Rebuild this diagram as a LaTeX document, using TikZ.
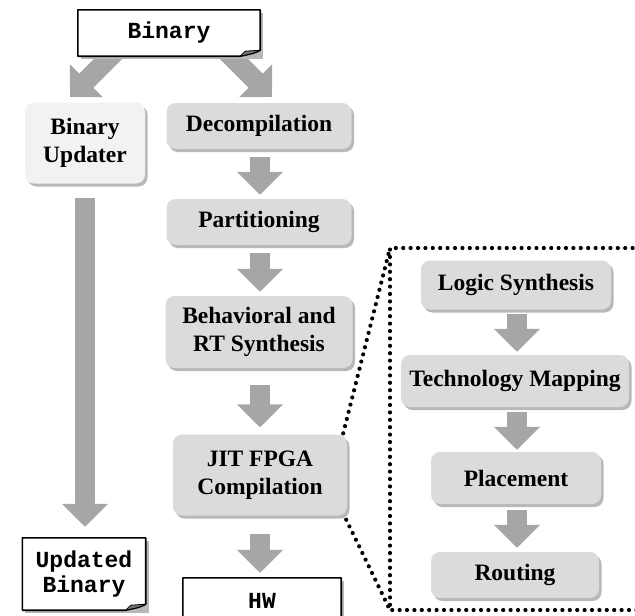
\documentclass[tikz,border=0pt]{standalone}
\usepackage{fontspec}
\setmainfont{Liberation Serif}
\setmonofont{Liberation Mono}
\usetikzlibrary{arrows.meta,shadows}

\definecolor{procfill}{HTML}{DBDBDB}
\definecolor{updfill}{HTML}{F2F2F2}
\definecolor{arrowgray}{HTML}{A6A6A6}
\definecolor{shadegray}{HTML}{B8B8B8}

\pgfdeclarelayer{arrowlayer}
\pgfdeclarelayer{framelayer}
\pgfsetlayers{arrowlayer,framelayer,main}

\tikzset{
  proc/.style={rounded corners=9pt, fill=procfill, inner sep=0pt, align=center,
    font=\fontsize{23.5}{28}\selectfont\bfseries,
    drop shadow={shadow xshift=2.5pt, shadow yshift=-3pt, fill=shadegray, opacity=1}},
  doc/.style={inner sep=0pt, align=center, font=\fontsize{23}{25}\selectfont\ttfamily\bfseries},
  bigarrow/.style={draw=arrowgray, line width=20pt, -{Triangle[width=45pt,length=23pt]}},
  dots/.style={line width=4.2pt, line cap=round, dash pattern=on 0pt off 7.4pt},
  docline/.style={line width=1.6pt, fill=white, line join=round},
}

% paper sheet with a curled lower right corner, drawn behind a text node
\newcommand{\docframe}[1]{%
  \begin{pgfonlayer}{framelayer}
    \fill[shadegray] ([shift={(3pt,-3pt)}]#1.north west) -- ([shift={(3pt,-3pt)}]#1.north east)
      -- ([shift={(3pt,-3pt)}]#1.south east) -- ([shift={(3pt,-3pt)}]#1.south west) -- cycle;
    \draw[docline] (#1.north west) -- (#1.north east) -- ([yshift=6pt]#1.south east)
      .. controls ([shift={(-6pt,3pt)}]#1.south east) .. ([xshift=-20pt]#1.south east)
      -- (#1.south west) -- cycle;
    \filldraw[fill=black!55, line width=0.8pt, line join=round]
      ([xshift=-20pt]#1.south east) -- ([shift={(-15pt,5pt)}]#1.south east)
      .. controls ([shift={(-8pt,6pt)}]#1.south east) .. ([yshift=6pt]#1.south east)
      .. controls ([shift={(-6pt,3pt)}]#1.south east) .. cycle;
  \end{pgfonlayer}}

\begin{document}
\begin{tikzpicture}[x=1pt,y=-1pt]
\useasboundingbox (0,0) rectangle (635,616);

% input / output sheets
\node[doc, minimum width=182pt, minimum height=46pt] (bin) at (169,33) {Binary};
\node[doc, minimum width=123pt, minimum height=72pt] (ub) at (84,574) {Updated\\Binary};
\node[doc, minimum width=158pt, minimum height=46pt] (hw) at (262,601) {HW};
\docframe{bin}
\docframe{ub}
\docframe{hw}

% software path
\node[proc, fill=updfill, minimum width=120pt, minimum height=81pt] (upd) at (85,143) {Binary\\Updater};

% hardware path
\node[proc, minimum width=185pt, minimum height=46pt] (dec) at (259,126) {Decompilation};
\node[proc, minimum width=185pt, minimum height=46pt] (part) at (259,222) {Partitioning};
\node[proc, minimum width=187pt, minimum height=72pt] (beh) at (259,332) {Behavioral and\\RT Synthesis};
\node[proc, minimum width=174pt, minimum height=81pt] (jit) at (260,475) {JIT FPGA\\Compilation};

% JIT FPGA compilation steps
\node[proc, minimum width=190pt, minimum height=49pt] (ls) at (516,285) {Logic Synthesis};
\node[proc, minimum width=228pt, minimum height=52pt] (tm) at (515,381) {Technology Mapping};
\node[proc, minimum width=170pt, minimum height=52pt] (pl) at (516,478) {Placement};
\node[proc, minimum width=168pt, minimum height=46pt] (rt) at (515,575) {Routing};

% arrow ends next to the input sheet
\coordinate (binL) at (115,52);
\coordinate (updIn) at (70,97);
\coordinate (binR) at (227,52);
\coordinate (decIn) at (272,97);

\begin{pgfonlayer}{arrowlayer}
  \draw[bigarrow] (binL) -- (updIn);
  \draw[bigarrow] (binR) -- (decIn);
  \draw[bigarrow, shorten <=14pt, shorten >=11pt] (upd.south) -- (upd.south |- ub.north);
  \draw[bigarrow, shorten <=8pt, shorten >=4pt] ([xshift=1pt]dec.south) -- ([xshift=1pt]part.north);
  \draw[bigarrow, shorten <=8pt, shorten >=4pt] ([xshift=1pt]part.south) -- ([xshift=1pt]beh.north);
  \draw[bigarrow, shorten <=17pt, shorten >=7pt] ([xshift=1pt]beh.south) -- ([xshift=1pt]beh.south |- jit.north);
  \draw[bigarrow, shorten <=18pt, shorten >=5pt] (jit.south) -- (jit.south |- hw.north);
  \draw[bigarrow, shorten <=4pt, shorten >=3pt] ([xshift=1pt]ls.south) -- ([xshift=1pt]ls.south |- tm.north);
  \draw[bigarrow, shorten <=5pt, shorten >=2pt] ([xshift=2pt]tm.south) -- ([xshift=2pt]tm.south |- pl.north);
  \draw[bigarrow, shorten <=6pt, shorten >=4pt] ([xshift=1pt]pl.south) -- ([xshift=1pt]pl.south |- rt.north);
\end{pgfonlayer}

% dotted frame opening out of the JIT FPGA compilation box
\coordinate (zoomTL) at (390,248);
\coordinate (zoomBL) at (390,610);
\coordinate (zoomTR) at (640,248);
\coordinate (zoomBR) at (640,610);
\draw[dots] (zoomTR) -- (zoomTL) -- (zoomBL) -- (zoomBR);
\draw[dots] ([shift={(-4pt,1pt)}]jit.north east) -- (zoomTL);
\draw[dots] ([shift={(-1pt,-4pt)}]jit.south east) -- (zoomBL);
\end{tikzpicture}
\end{document}
